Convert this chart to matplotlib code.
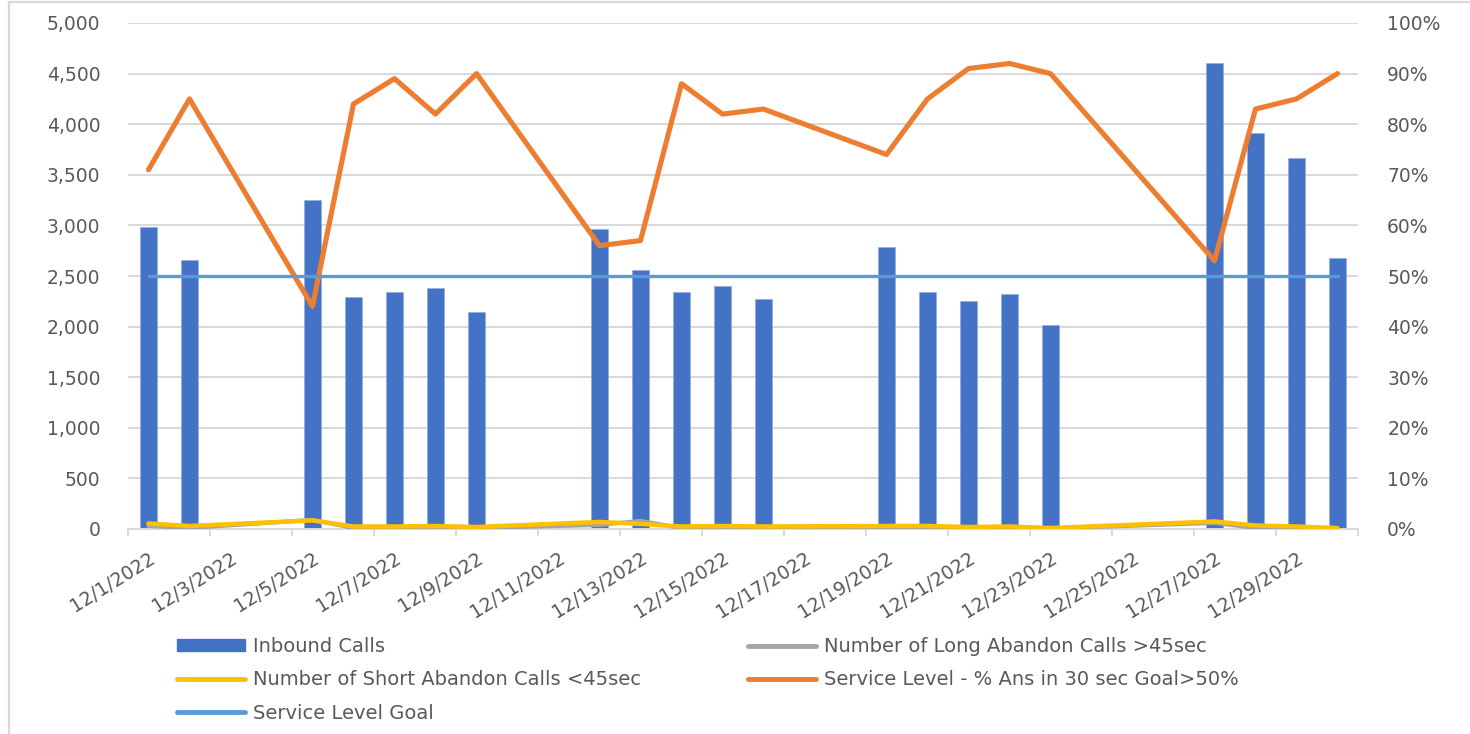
import matplotlib
matplotlib.use("Agg")
import matplotlib.pyplot as plt
import matplotlib.dates as mdates
from matplotlib.lines import Line2D
from matplotlib.patches import Patch
from matplotlib.ticker import FuncFormatter, FixedLocator
import datetime as dt

# ---------------- data ----------------
dates = ["2022-12-01", "2022-12-02", "2022-12-05", "2022-12-06", "2022-12-07",
         "2022-12-08", "2022-12-09", "2022-12-12", "2022-12-13", "2022-12-14",
         "2022-12-15", "2022-12-16", "2022-12-19", "2022-12-20", "2022-12-21",
         "2022-12-22", "2022-12-23", "2022-12-27", "2022-12-28", "2022-12-29",
         "2022-12-30"]
inbound_calls = [2985, 2660, 3250, 2290, 2345, 2385, 2140, 2960, 2555, 2345,
                 2405, 2275, 2790, 2345, 2250, 2320, 2020, 4600, 3910, 3665, 2680]
long_abandon = [30, 10, 90, 10, 10, 15, 10, 40, 80, 10,
                15, 10, 15, 15, 10, 10, 5, 60, 10, 15, 5]
short_abandon = [55, 30, 85, 25, 25, 30, 20, 70, 50, 25,
                 30, 25, 30, 30, 20, 25, 10, 75, 35, 25, 10]
service_level = [0.71, 0.85, 0.44, 0.84, 0.89, 0.82, 0.90, 0.56, 0.57, 0.88,
                 0.82, 0.83, 0.74, 0.85, 0.91, 0.92, 0.90, 0.53, 0.83, 0.85, 0.90]
service_goal = [0.5, 0.5, 0.5, 0.5, 0.5, 0.5, 0.5, 0.5, 0.5, 0.5,
                0.5, 0.5, 0.5, 0.5, 0.5, 0.5, 0.5, 0.5, 0.5, 0.5, 0.5]
tick_label_dates = ["2022-12-01", "2022-12-03", "2022-12-05", "2022-12-07",
                    "2022-12-09", "2022-12-11", "2022-12-13", "2022-12-15",
                    "2022-12-17", "2022-12-19", "2022-12-21", "2022-12-23",
                    "2022-12-25", "2022-12-27", "2022-12-29"]
tick_labels = ["12/1/2022", "12/3/2022", "12/5/2022", "12/7/2022", "12/9/2022",
               "12/11/2022", "12/13/2022", "12/15/2022", "12/17/2022",
               "12/19/2022", "12/21/2022", "12/23/2022", "12/25/2022",
               "12/27/2022", "12/29/2022"]
left_ticks = [0, 500, 1000, 1500, 2000, 2500, 3000, 3500, 4000, 4500, 5000]
right_ticks = [0, 0.1, 0.2, 0.3, 0.4, 0.5, 0.6, 0.7, 0.8, 0.9, 1.0]

series_names = ["Inbound Calls", "Number of Long Abandon Calls >45sec",
                "Number of Short Abandon Calls <45sec",
                "Service Level - % Ans in 30 sec Goal>50%", "Service Level Goal"]

# ---------------- styles ----------------
C_BAR = "#4472C4"
C_GRAY = "#A5A5A5"
C_YEL = "#FFC000"
C_ORA = "#ED7D31"
C_GOAL = "#5B9BD5"
C_GRID = "#D9D9D9"
C_TXT = "#595959"

plt.rcParams["font.family"] = ["DejaVu Sans"]

W, H = 1470, 734
fig = plt.figure(figsize=(W / 100, H / 100), dpi=100)
fig.patch.set_facecolor("white")

x = mdates.date2num([dt.datetime.strptime(d, "%Y-%m-%d") for d in dates])
xt = mdates.date2num([dt.datetime.strptime(d, "%Y-%m-%d") for d in tick_label_dates])

left, right, top, bottom = 128, 1358, 23, 529
ax = fig.add_axes([left / W, 1 - bottom / H, (right - left) / W, (bottom - top) / H])
ax2 = ax.twinx()

ax.set_axisbelow(True)
ax.bar(x, inbound_calls, width=0.41, color=C_BAR, edgecolor="#8FAADC",
       linewidth=0.4, zorder=2)
ax.plot(x, long_abandon, color=C_GRAY, lw=3.0, solid_capstyle="round",
        solid_joinstyle="round", zorder=3)
ax.plot(x, short_abandon, color=C_YEL, lw=3.2, solid_capstyle="round",
        solid_joinstyle="round", zorder=4)
ax2.plot(x, service_level, color=C_ORA, lw=3.7, solid_capstyle="round",
         solid_joinstyle="round", zorder=3)
ax2.plot(x, service_goal, color=C_GOAL, lw=2.4, solid_capstyle="round",
         zorder=4)

x0 = mdates.date2num(dt.datetime(2022, 12, 1)) - 0.5
x1 = mdates.date2num(dt.datetime(2022, 12, 30)) + 0.5
ax.set_xlim(x0, x1)
ax.set_ylim(0, 5000)
ax2.set_ylim(0, 1.0)

# y axes
ax.yaxis.set_major_locator(FixedLocator(left_ticks))
ax.yaxis.set_major_formatter(FuncFormatter(lambda v, p: f"{int(v):,}"))
ax.tick_params(axis="y", length=0, pad=20, labelsize=13.5, labelcolor=C_TXT)
ax2.yaxis.set_major_locator(FixedLocator(right_ticks))
ax2.yaxis.set_major_formatter(FuncFormatter(lambda v, p: f"{v * 100:.0f}%"))
ax2.tick_params(axis="y", length=0, pad=21, labelsize=13.5, labelcolor=C_TXT)
ax.yaxis.grid(True, color=C_GRID, lw=1.4)

# x axis
ax.xaxis.set_major_locator(FixedLocator(list(xt)))
ax.set_xticklabels(tick_labels)
minor_pos = [x0 + 2 * k for k in range(16)]
ax.xaxis.set_minor_locator(FixedLocator(minor_pos))
ax.tick_params(axis="x", which="major", length=0, pad=14, labelsize=13.5,
               labelcolor=C_TXT)
ax.tick_params(axis="x", which="minor", length=5, width=1.3, color=C_GRID)
for lab in ax.get_xticklabels():
    lab.set_rotation(32)
    lab.set_ha("right")
    lab.set_va("top")
    lab.set_rotation_mode("anchor")

for sp in ["top", "left", "right"]:
    ax.spines[sp].set_visible(False)
ax.spines["bottom"].set_color(C_GRID)
ax.spines["bottom"].set_linewidth(1.4)
for sp in ax2.spines.values():
    sp.set_visible(False)

# outer chart frame
fig.add_artist(Line2D([9 / W, 9 / W], [0, 1 - 2 / H], transform=fig.transFigure,
                      color=C_GRID, lw=1.6))
fig.add_artist(Line2D([9 / W, 1], [1 - 2 / H, 1 - 2 / H], transform=fig.transFigure,
                      color=C_GRID, lw=1.6))

# legend
h_bar = Patch(facecolor=C_BAR, edgecolor=C_BAR)
h_long = Line2D([], [], color=C_GRAY, lw=3.5, solid_capstyle="round")
h_short = Line2D([], [], color=C_YEL, lw=3.5, solid_capstyle="round")
h_sl = Line2D([], [], color=C_ORA, lw=3.5, solid_capstyle="round")
h_goal = Line2D([], [], color=C_GOAL, lw=3.5, solid_capstyle="round")

leg_kw = dict(frameon=False, fontsize=14, labelcolor=C_TXT, handlelength=3.5,
              handletextpad=0.4, handleheight=0.55, labelspacing=0.74,
              borderpad=0, borderaxespad=0, loc="upper left")
fig.legend([h_bar, h_short, h_goal], [series_names[0], series_names[2], series_names[4]],
           bbox_to_anchor=(177 / W, 1 - 637 / H), **leg_kw)
fig.legend([h_long, h_sl], [series_names[1], series_names[3]],
           bbox_to_anchor=(748 / W, 1 - 637 / H), **leg_kw)

fig.savefig("out.png", dpi=100, facecolor="white")
